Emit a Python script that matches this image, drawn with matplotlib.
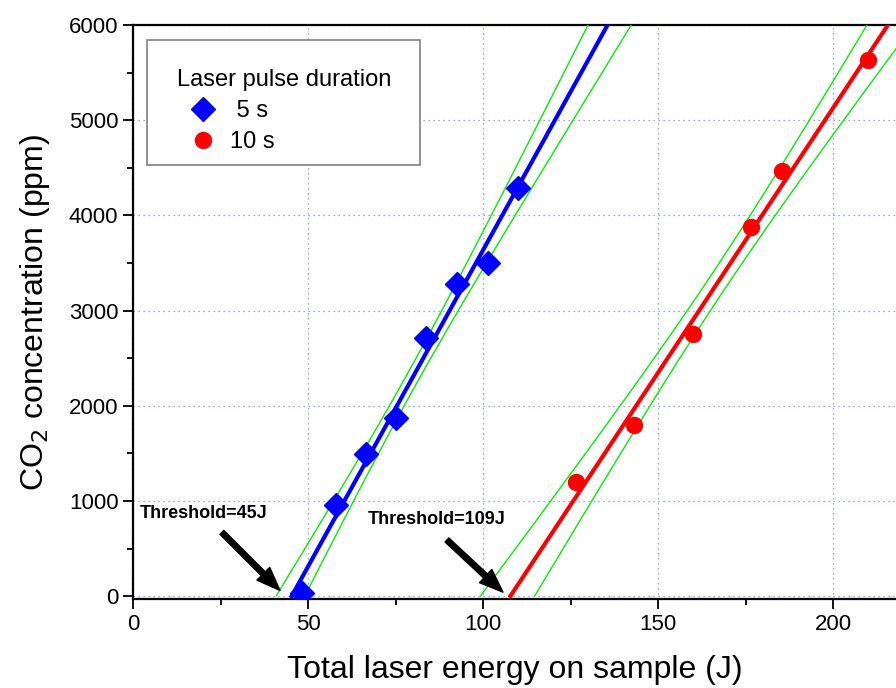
import numpy as np
import matplotlib
matplotlib.use("Agg")
import matplotlib.pyplot as plt
from matplotlib.patches import Rectangle

plt.rcParams['font.family'] = ['Liberation Sans', 'DejaVu Sans']

# data
energy_5s = [48.3, 58.0, 66.6, 75.1, 83.8, 92.5, 101.3, 109.9]
co2_5s = [30, 956, 1490, 1873, 2713, 3280, 3505, 4289]
energy_10s = [126.6, 143.2, 159.9, 176.5, 185.5, 209.9]
co2_10s = [1200, 1796, 2759, 3873, 4470, 5630]
# two-sided 95% t values for n-2 degrees of freedom
t95 = {6: 2.447, 4: 2.776}


def fit_with_band(x, y):
    """Linear fit plus 95% confidence band of the mean"""
    x = np.asarray(x, float)
    y = np.asarray(y, float)
    n = len(x)
    b, a = np.polyfit(x, y, 1)
    res = y - (a + b * x)
    s = np.sqrt(np.sum(res**2) / (n - 2))
    xm = x.mean()
    sxx = np.sum((x - xm)**2)
    xx = np.linspace(0, 260, 3000)
    yy = a + b * xx
    half = t95[n - 2] * s * np.sqrt(1.0 / n + (xx - xm)**2 / sxx)
    return xx, yy, yy - half, yy + half


fig = plt.figure(figsize=(8.96, 6.88), dpi=100)
ax = fig.add_axes([133 / 896, 1 - 599 / 688, 1 - 133 / 896, 574 / 688])

for x, y, col in [(energy_5s, co2_5s, 'blue'), (energy_10s, co2_10s, 'red')]:
    xx, yy, lo, hi = fit_with_band(x, y)
    for band in (lo, hi):
        ax.plot(xx, np.where(band >= 0, band, np.nan), color='#00ee00', lw=1.0, zorder=3)
    ax.plot(xx, np.where(yy >= 0, yy, np.nan), color=col, lw=3.0, zorder=4)

ax.plot(energy_5s, co2_5s, 'D', color='blue', ms=12, ls='none', label=' 5 s', zorder=5)
ax.plot(energy_10s, co2_10s, 'o', color='red', ms=11.5, ls='none', label='10 s', zorder=5)

ax.set_xlim(0, 218)
ax.set_ylim(-30, 6000)
ax.set_xticks([0, 50, 100, 150, 200])
ax.set_xticks(np.arange(25, 218, 50), minor=True)
ax.set_yticks(np.arange(0, 6001, 1000))
ax.set_yticks(np.arange(500, 6000, 1000), minor=True)
ax.tick_params(which='major', direction='out', length=7, width=1.3, labelsize=16)
ax.tick_params(which='minor', direction='out', length=4, width=1.3)
ax.grid(True, which='major', color='#6060ff', lw=0.9, ls=(0, (1, 3)), alpha=0.8)
ax.spines['right'].set_visible(False)
for sp in ('left', 'bottom', 'top'):
    ax.spines[sp].set_linewidth(1.6)

ax.set_xlabel('Total laser energy on sample (J)', fontsize=23, labelpad=15)
ax.set_ylabel('CO$_2$ concentration (ppm)', fontsize=23, labelpad=12)

# legend box drawn separately so its padding can match the original
ax.add_patch(Rectangle((0.0183, 0.7561), 0.3578, 0.2178, transform=ax.transAxes,
                       facecolor='white', edgecolor='#808080', lw=1.2, zorder=6))
leg = ax.legend(title='Laser pulse duration', loc='upper left', bbox_to_anchor=(0.0577, 0.923),
                fontsize=17, title_fontsize=17, frameon=False,
                borderpad=0, handletextpad=0.05, labelspacing=0.38,
                borderaxespad=0, handlelength=2.2)
leg._legend_box.align = 'left'
leg.set_zorder(7)

arrow = dict(facecolor='black', edgecolor='black', width=4, headwidth=13, headlength=17)
ax.annotate('', xy=(42, 60), xytext=(25.4, 670), arrowprops=arrow)
ax.text(2, 873, 'Threshold=45J', fontsize=13, fontweight='bold', va='center', ha='left')
ax.annotate('', xy=(105.7, 42), xytext=(89.7, 590), arrowprops=arrow)
ax.text(67.1, 810, 'Threshold=109J', fontsize=13, fontweight='bold', va='center', ha='left')

fig.savefig('out.png', dpi=100)
